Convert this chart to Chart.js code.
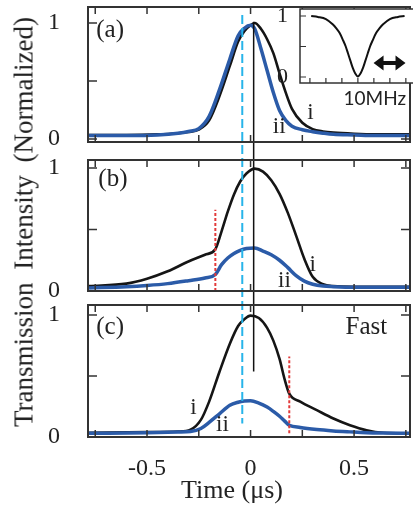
<!DOCTYPE html>
<html lang="en">
<head>
<meta charset="UTF-8">
<title>Transmission Intensity</title>
<script src="https://cdn.jsdelivr.net/npm/chart.js"></script>
<style>
  html, body { margin: 0; padding: 0; overflow: hidden; background: #fff; }
  #wrap { position: relative; width: 413px; height: 505px; overflow: hidden; }
  #mainChart { position: absolute; left: 0; top: 0; }
  #insetChart { position: absolute; left: 255px; top: 0; }
  .ytitle {
    position: absolute; left: 24px; top: 222px;
    transform: translate(-50%, -50%) rotate(-90deg);
    font: 27px "Liberation Serif", serif; word-spacing: 6px;
    white-space: nowrap; color: #222;
  }
  .xtitle {
    position: absolute; left: 232px; top: 490px;
    transform: translate(-50%, -50%);
    font: 26px "Liberation Serif", serif;
    white-space: nowrap; color: #222;
  }
</style>
</head>
<body>
<div id="wrap">
  <canvas id="mainChart" width="413" height="505"></canvas>
  <canvas id="insetChart" width="165" height="112"></canvas>
  <div class="ytitle">Transmission Intensity (Normalized)</div>
  <div class="xtitle">Time (μs)</div>
</div>

<script>
// time axis (μs) and traces for each panel: i = black, ii = blue
const timeA = [-0.78, -0.6, -0.45, -0.35, -0.3, -0.25, -0.2, -0.15, -0.1, -0.06, -0.03, 0, 0.02, 0.05, 0.08, 0.11, 0.14, 0.17, 0.2, 0.25, 0.3, 0.35, 0.4, 0.5, 0.6, 0.77];
const traceA_i = [0.035, 0.035, 0.04, 0.05, 0.06, 0.08, 0.16, 0.37, 0.63, 0.84, 0.93, 0.98, 1.0, 0.95, 0.86, 0.74, 0.565, 0.40, 0.26, 0.14, 0.085, 0.065, 0.055, 0.045, 0.04, 0.04];
const traceA_ii = [0.03, 0.03, 0.035, 0.05, 0.065, 0.09, 0.195, 0.425, 0.69, 0.89, 0.955, 0.98, 0.95, 0.78, 0.59, 0.40, 0.245, 0.16, 0.11, 0.08, 0.063, 0.05, 0.04, 0.035, 0.03, 0.03];

const timeB = [-0.78, -0.6, -0.5, -0.4, -0.3, -0.22, -0.17, -0.14, -0.11, -0.08, -0.05, -0.02, 0.02, 0.06, 0.1, 0.14, 0.18, 0.22, 0.26, 0.3, 0.35, 0.4, 0.5, 0.6, 0.77];
const traceB_i = [0.04, 0.06, 0.10, 0.16, 0.24, 0.295, 0.34, 0.485, 0.645, 0.785, 0.89, 0.955, 0.995, 0.97, 0.90, 0.79, 0.635, 0.45, 0.26, 0.115, 0.055, 0.04, 0.035, 0.035, 0.035];
const traceB_ii = [0.025, 0.035, 0.045, 0.06, 0.084, 0.106, 0.135, 0.214, 0.268, 0.305, 0.33, 0.345, 0.35, 0.325, 0.295, 0.25, 0.19, 0.125, 0.08, 0.055, 0.04, 0.035, 0.03, 0.03, 0.03];

const timeC = [-0.78, -0.5, -0.35, -0.29, -0.24, -0.2, -0.15, -0.1, -0.06, -0.03, 0, 0.04, 0.08, 0.11, 0.14, 0.165, 0.187, 0.24, 0.32, 0.4, 0.48, 0.56, 0.64, 0.77];
const traceC_i = [0.035, 0.04, 0.045, 0.06, 0.14, 0.29, 0.535, 0.765, 0.91, 0.965, 0.995, 0.975, 0.895, 0.79, 0.64, 0.47, 0.355, 0.29, 0.22, 0.152, 0.097, 0.056, 0.035, 0.03];
const traceC_ii = [0.03, 0.035, 0.04, 0.045, 0.07, 0.12, 0.19, 0.26, 0.285, 0.295, 0.297, 0.278, 0.245, 0.21, 0.17, 0.13, 0.097, 0.078, 0.061, 0.05, 0.042, 0.035, 0.032, 0.03];

// switching instants (red dotted) in panels b and c
const switchTimes = [-0.17, 0.187];
const switchTops = [0.66, 0.66];

// vertical guides running through all three panels: top level on panel a, bottom level on panel c
const guideTimes = [-0.04, 0.015];
const guideTops = [1.07, 1.01];
const guideBottoms = [0.11, 0.537];

const timeTicks = [-0.75, -0.5, -0.25, 0, 0.25, 0.5, 0.75];
const timeLabels = [-0.5, 0, 0.5];
const levelTicks = [0, 0.25, 0.5, 0.75, 1];
const levelLabels = [0, 1];

// inset: cavity transmission vs detuning (MHz)
const insetFreq = [-14.6, -12.5, -10, -7.8, -6.8, -5.7, -4.7, -3.8, -3.1, -2.3, -1.6, -0.9, 0, 0.9, 1.6, 2.3, 3.1, 3.8, 4.7, 5.7, 6.8, 7.8, 10, 12.5, 14.6];
const insetLevel = [1.0, 0.985, 0.95, 0.86, 0.80, 0.72, 0.61, 0.50, 0.39, 0.26, 0.15, 0.066, 0.01, 0.066, 0.15, 0.26, 0.39, 0.50, 0.61, 0.72, 0.80, 0.86, 0.95, 0.985, 1.0];
const insetFreqTicks = [-15, -10, -5, 0, 5, 10, 15];
const insetLevelTicks = [0, 0.5, 1];
const insetLevelLabels = [0, 1];
const scaleBarMHz = [4.9, 14.9];

const serif = '"Liberation Serif", "Times New Roman", serif';
const BLACK = '#151515';
const BLUE = '#2b5ba8';

const pts = (ts, vs) => ts.map((t, i) => ({ x: t, y: vs[i] }));

// keep tick labels from pushing the plot area inwards
function noLabelPadding(s) {
    s.paddingTop = 0; s.paddingBottom = 0;
    s.paddingLeft = 0; s.paddingRight = 0;
}

function trace(ts, vs, axis, color, width, order) {
    return {
        data: pts(ts, vs), yAxisID: axis, borderColor: color, borderWidth: width,
        pointRadius: 0, cubicInterpolationMode: 'monotone', order
    };
}

function switchLine(i, axis, bottom) {
    return {
        data: [{ x: switchTimes[i], y: bottom }, { x: switchTimes[i], y: switchTops[i] }],
        yAxisID: axis, borderColor: '#e23a3a', borderWidth: 2, borderDash: [3, 2],
        pointRadius: 0, order: 0
    };
}

function panelAxis(min, max, weight) {
    return {
        type: 'linear', position: 'left', stack: 'panels', stackWeight: weight, min, max,
        grid: { display: false }, border: { display: false },
        afterFit: s => { s.width = 88; noLabelPadding(s); },
        afterBuildTicks: s => { s.ticks = levelTicks.map(v => ({ value: v })); },
        ticks: {
            padding: 20, color: '#222', font: { family: serif, size: 24 },
            callback: v => levelLabels.includes(v) ? String(v) : ''
        }
    };
}

function gapAxis(weight) {
    return { type: 'linear', position: 'left', stack: 'panels', stackWeight: weight, display: false, min: 0, max: 1 };
}

// frames with inward ticks around each panel
const panelFrames = {
    id: 'panelFrames',
    afterDraw(chart) {
        const { ctx, scales } = chart;
        const x = scales.x;
        ctx.save();
        ctx.strokeStyle = '#333';
        ['ya', 'yb', 'yc'].forEach(id => {
            const y = scales[id];
            ctx.lineWidth = 1.5;
            ctx.beginPath();
            y.ticks.forEach(tk => {
                const py = y.getPixelForValue(tk.value);
                ctx.moveTo(x.left, py); ctx.lineTo(x.left + 9, py);
                ctx.moveTo(x.right, py); ctx.lineTo(x.right - 9, py);
            });
            x.ticks.forEach(tk => {
                const px = x.getPixelForValue(tk.value);
                ctx.moveTo(px, y.bottom); ctx.lineTo(px, y.bottom - 7);
                ctx.moveTo(px, y.top); ctx.lineTo(px, y.top + 7);
            });
            ctx.stroke();
            ctx.lineWidth = 2;
            ctx.strokeRect(x.left, y.top, x.right - x.left, y.bottom - y.top);
        });
        ctx.restore();
    }
};

// guide lines crossing the panels, plus panel tags and trace names
const overlays = {
    id: 'overlays',
    afterDatasetsDraw(chart) {
        const { ctx, scales: { x, ya, yb, yc } } = chart;
        const styles = [
            { color: '#27b4ea', dash: [9, 4], width: 2 },
            { color: '#111', dash: [], width: 1.5 }
        ];
        ctx.save();
        guideTimes.forEach((t, i) => {
            const px = x.getPixelForValue(t);
            ctx.beginPath();
            ctx.strokeStyle = styles[i].color;
            ctx.lineWidth = styles[i].width;
            ctx.setLineDash(styles[i].dash);
            ctx.moveTo(px, ya.getPixelForValue(guideTops[i]));
            ctx.lineTo(px, yc.getPixelForValue(guideBottoms[i]));
            ctx.stroke();
        });
        ctx.setLineDash([]);

        ctx.fillStyle = '#222';
        ctx.textBaseline = 'middle';
        const text = (s, t, v, y, size, align) => {
            ctx.font = size + 'px ' + serif;
            ctx.textAlign = align;
            ctx.fillText(s, x.getPixelForValue(t), y.getPixelForValue(v));
        };
        text('(a)', -0.745, 0.94, ya, 25, 'left');
        text('(b)', -0.735, 0.905, yb, 25, 'left');
        text('(c)', -0.745, 0.90, yc, 25, 'left');
        text('Fast', 0.66, 0.90, yc, 25, 'right');
        text('i', 0.289, 0.228, ya, 23, 'center');
        text('ii', 0.138, 0.108, ya, 23, 'center');
        text('i', 0.30, 0.215, yb, 23, 'center');
        text('ii', 0.164, 0.085, yb, 23, 'center');
        text('i', -0.276, 0.234, yc, 23, 'center');
        text('ii', -0.136, 0.098, yc, 23, 'center');
        ctx.restore();
    }
};

new Chart(document.getElementById('mainChart'), {
    type: 'line',
    data: {
        datasets: [
            trace(timeA, traceA_ii, 'ya', BLUE, 3.5, 1),
            trace(timeA, traceA_i, 'ya', BLACK, 2.6, 2),
            trace(timeB, traceB_ii, 'yb', BLUE, 3.5, 1),
            trace(timeB, traceB_i, 'yb', BLACK, 2.6, 2),
            trace(timeC, traceC_ii, 'yc', BLUE, 3.5, 1),
            trace(timeC, traceC_i, 'yc', BLACK, 2.6, 2),
            switchLine(0, 'yb', 0.0),
            switchLine(1, 'yc', 0.03)
        ]
    },
    options: {
        responsive: false,
        animation: false,
        devicePixelRatio: 1,
        layout: { padding: { top: 7, right: 3, bottom: 0, left: 0 } },
        plugins: { legend: { display: false }, tooltip: { enabled: false } },
        scales: {
            x: {
                type: 'linear', min: -0.785, max: 0.77,
                grid: { display: false }, border: { display: false },
                afterFit: s => { s.height = 68; noLabelPadding(s); },
                afterBuildTicks: s => { s.ticks = timeTicks.map(v => ({ value: v })); },
                ticks: {
                    padding: 9, color: '#222', font: { family: serif, size: 24 },
                    maxRotation: 0, autoSkip: false,
                    callback: v => timeLabels.includes(v) ? String(v) : ''
                }
            },
            yc: panelAxis(0, 1.082, 132),
            g2: gapAxis(14),
            yb: panelAxis(0, 1.065, 131),
            g1: gapAxis(18),
            ya: panelAxis(-0.026, 1.138, 135)
        }
    },
    plugins: [overlays, panelFrames]
});

// inset: white box, frame, inward ticks, 10 MHz scale bar
const insetDecor = {
    id: 'insetDecor',
    beforeDraw(chart) {
        const { ctx, chartArea: a } = chart;
        ctx.save();
        ctx.fillStyle = '#fff';
        ctx.fillRect(a.left, a.top, a.right - a.left, a.bottom - a.top);
        ctx.restore();
    },
    afterDraw(chart) {
        const { ctx, chartArea: a, scales: { x, y } } = chart;
        ctx.save();
        ctx.strokeStyle = '#333';
        ctx.lineWidth = 1.2;
        ctx.beginPath();
        x.ticks.forEach(tk => {
            const px = x.getPixelForValue(tk.value);
            ctx.moveTo(px, a.bottom); ctx.lineTo(px, a.bottom - 5);
        });
        y.ticks.forEach(tk => {
            const py = y.getPixelForValue(tk.value);
            ctx.moveTo(a.left, py); ctx.lineTo(a.left + 6, py);
        });
        ctx.stroke();
        ctx.lineWidth = 1.5;
        ctx.strokeRect(a.left, a.top, a.right - a.left, a.bottom - a.top);

        // double-headed arrow
        const x1 = x.getPixelForValue(scaleBarMHz[0]);
        const x2 = x.getPixelForValue(scaleBarMHz[1]);
        const py = y.getPixelForValue(0.23);
        const head = 10, half = 7.5;
        ctx.fillStyle = '#111';
        ctx.fillRect(x1 + head - 1, py - 2, x2 - x1 - 2 * head + 2, 4);
        ctx.beginPath();
        ctx.moveTo(x1, py); ctx.lineTo(x1 + head, py - half); ctx.lineTo(x1 + head, py + half); ctx.closePath();
        ctx.moveTo(x2, py); ctx.lineTo(x2 - head, py - half); ctx.lineTo(x2 - head, py + half); ctx.closePath();
        ctx.fill();

        ctx.fillStyle = '#222';
        ctx.font = '19px Lato, "Open Sans", sans-serif';
        ctx.textAlign = 'center';
        ctx.textBaseline = 'alphabetic';
        ctx.fillText('10MHz', x.getPixelForValue(5.3), a.bottom + 21.5);
        ctx.restore();
    }
};

new Chart(document.getElementById('insetChart'), {
    type: 'line',
    data: {
        datasets: [{
            data: pts(insetFreq, insetLevel), borderColor: '#111', borderWidth: 2,
            pointRadius: 0, cubicInterpolationMode: 'monotone'
        }]
    },
    options: {
        responsive: false,
        animation: false,
        devicePixelRatio: 1,
        layout: { padding: { top: 9, right: 2, bottom: 0, left: 0 } },
        plugins: { legend: { display: false }, tooltip: { enabled: false } },
        scales: {
            x: {
                type: 'linear', min: -18.1, max: 18.8,
                grid: { display: false }, border: { display: false },
                afterFit: s => { s.height = 29; noLabelPadding(s); },
                afterBuildTicks: s => { s.ticks = insetFreqTicks.map(v => ({ value: v })); },
                ticks: { display: false }
            },
            y: {
                type: 'linear', min: -0.098, max: 1.115,
                grid: { display: false }, border: { display: false },
                afterFit: s => { s.width = 45; noLabelPadding(s); },
                afterBuildTicks: s => { s.ticks = insetLevelTicks.map(v => ({ value: v })); },
                ticks: {
                    padding: 4, color: '#222', font: { family: serif, size: 22 },
                    callback: v => insetLevelLabels.includes(v) ? String(v) : ''
                }
            }
        }
    },
    plugins: [insetDecor]
});
</script>
</body>
</html>
